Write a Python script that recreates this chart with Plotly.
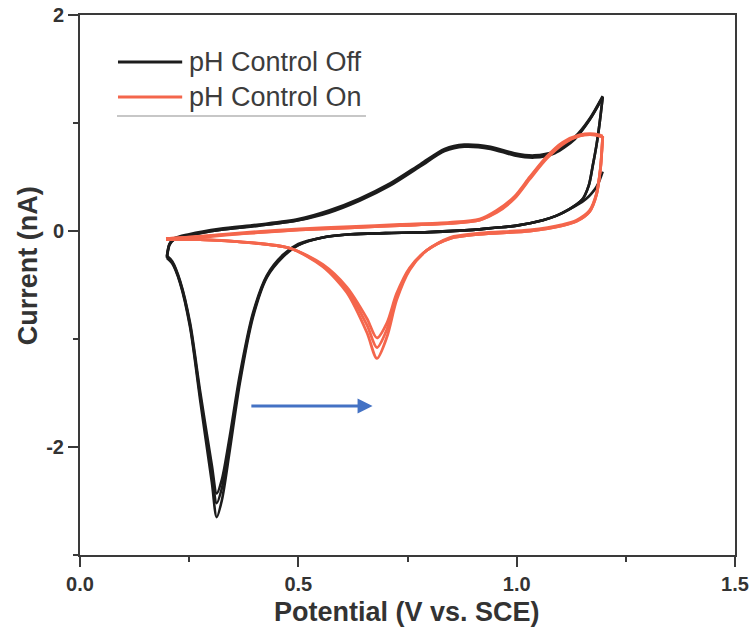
import plotly.graph_objects as go

# ---- Cyclic voltammetry data (3 cycles per condition) ----
# pH control off: reverse sweep 1.2 V -> 0.2 V
E_OFF_REV = [1.197, 1.19, 1.183, 1.174, 1.165, 1.15, 1.12, 1.09, 1.06, 1.0, 0.95, 0.90,
             0.80, 0.70, 0.62, 0.556, 0.50, 0.465, 0.428, 0.396, 0.366, 0.343, 0.325,
             0.313, 0.302, 0.275, 0.252, 0.229, 0.211, 0.199]
I_OFF_REV_1 = [0.55, 0.47, 0.41, 0.36, 0.32, 0.27, 0.20, 0.14, 0.10, 0.05, 0.03, 0.01,
               -0.01, -0.02, -0.03, -0.06, -0.13, -0.24, -0.43, -0.80, -1.41, -2.03, -2.49,
               -2.65, -2.33, -1.56, -0.89, -0.48, -0.30, -0.25]
I_OFF_REV_2 = [1.24, 1.00, 0.80, 0.60, 0.42, 0.29, 0.20, 0.14, 0.10, 0.05, 0.03, 0.01,
               -0.01, -0.02, -0.03, -0.06, -0.13, -0.23, -0.42, -0.78, -1.37, -1.96, -2.38,
               -2.52, -2.24, -1.52, -0.87, -0.47, -0.29, -0.24]
I_OFF_REV_3 = [1.24, 1.00, 0.80, 0.60, 0.42, 0.29, 0.20, 0.14, 0.10, 0.05, 0.03, 0.01,
               -0.01, -0.02, -0.03, -0.06, -0.12, -0.22, -0.41, -0.76, -1.33, -1.90, -2.30,
               -2.43, -2.17, -1.48, -0.85, -0.46, -0.28, -0.23]
# pH control off: forward sweep 0.2 V -> 1.2 V
E_OFF_FWD = [0.199, 0.205, 0.215, 0.25, 0.32, 0.41, 0.50, 0.57, 0.64, 0.71, 0.78, 0.835,
             0.88, 0.94, 0.995, 1.04, 1.087, 1.133, 1.167, 1.197]
I_OFF_FWD_1 = [-0.25, -0.13, -0.08, -0.04, 0.01, 0.05, 0.10, 0.18, 0.29, 0.43, 0.61, 0.75,
               0.79, 0.77, 0.71, 0.69, 0.73, 0.86, 1.03, 1.24]
I_OFF_FWD_2 = [-0.24, -0.12, -0.08, -0.04, 0.01, 0.05, 0.10, 0.17, 0.28, 0.42, 0.60, 0.74,
               0.78, 0.76, 0.70, 0.68, 0.72, 0.85, 1.03, 1.24]
I_OFF_FWD_3 = [-0.23, -0.12, -0.07, -0.03, 0.02, 0.06, 0.11, 0.19, 0.30, 0.44, 0.62, 0.76,
               0.80, 0.78, 0.72, 0.70, 0.74, 0.87, 1.04, 1.25]

# pH control on: forward sweep 0.2 V -> 1.2 V
E_ON_FWD = [0.197, 0.275, 0.389, 0.503, 0.618, 0.732, 0.847, 0.915, 0.954, 0.995, 1.03,
            1.069, 1.105, 1.144, 1.178, 1.197]
I_ON_FWD_1 = [-0.07, -0.05, -0.01, 0.02, 0.04, 0.06, 0.08, 0.11, 0.19, 0.32, 0.50,
              0.69, 0.82, 0.89, 0.90, 0.88]
I_ON_FWD_2 = [-0.07, -0.05, -0.02, 0.01, 0.03, 0.05, 0.07, 0.10, 0.18, 0.31, 0.49,
              0.68, 0.81, 0.88, 0.89, 0.87]
I_ON_FWD_3 = [-0.08, -0.06, -0.02, 0.01, 0.03, 0.05, 0.07, 0.10, 0.17, 0.30, 0.48,
              0.67, 0.80, 0.88, 0.89, 0.87]
# pH control on: reverse sweep 1.2 V -> 0.2 V
E_ON_REV = [1.197, 1.195, 1.192, 1.183, 1.167, 1.137, 1.105, 1.03, 0.915, 0.847, 0.794,
            0.755, 0.725, 0.703, 0.680, 0.657, 0.611, 0.556, 0.481, 0.366, 0.275, 0.197]
I_ON_REV_1 = [0.88, 0.75, 0.59, 0.35, 0.19, 0.10, 0.06, 0.01, -0.02, -0.06, -0.18,
              -0.36, -0.64, -0.98, -1.18, -0.94, -0.57, -0.33, -0.16, -0.10, -0.08, -0.07]
I_ON_REV_2 = [0.87, 0.74, 0.58, 0.34, 0.18, 0.09, 0.05, 0.00, -0.03, -0.07, -0.18,
              -0.35, -0.61, -0.91, -1.08, -0.87, -0.54, -0.32, -0.16, -0.10, -0.08, -0.07]
I_ON_REV_3 = [0.87, 0.74, 0.58, 0.34, 0.18, 0.09, 0.05, 0.00, -0.03, -0.07, -0.18,
              -0.34, -0.58, -0.85, -0.99, -0.81, -0.52, -0.31, -0.16, -0.10, -0.08, -0.08]

# Shift arrow (from the "off" reduction peak toward the "on" reduction peak)
ARROW_FROM = (0.389, -1.62)
ARROW_TO = (0.670, -1.62)

LEGEND_LABELS = ["pH Control Off", "pH Control On"]
X_TICKS = [0.0, 0.5, 1.0, 1.5]
X_TICKTEXT = ["0.0", "0.5", "1.0", "1.5"]
Y_TICKS = [-2, 0, 2]
Y_TICKTEXT = ["-2", "0", "2"]

BLACK = "#1c1c1c"
RED = "#f4664c"
AXIS = "#3a3a3a"
FONT = "Liberation Sans, Arial, sans-serif"


def sweep_path(segments):
    """Join sweep segments with gaps so each branch is smoothed on its own."""
    xs, ys = [], []
    for e, i in segments:
        if xs:
            xs.append(None)
            ys.append(None)
        xs.extend(e)
        ys.extend(i)
    return xs, ys


fig = go.Figure()

off_cycles = [(I_OFF_REV_1, I_OFF_FWD_1), (I_OFF_REV_2, I_OFF_FWD_2), (I_OFF_REV_3, I_OFF_FWD_3)]
for rev, fwd in off_cycles:
    xs, ys = sweep_path([(E_OFF_REV, rev), (E_OFF_FWD, fwd)])
    fig.add_trace(go.Scatter(x=xs, y=ys, mode="lines", showlegend=False,
                             connectgaps=False,
                             line=dict(color=BLACK, width=2.6, shape="spline", smoothing=0.8)))

on_cycles = [(I_ON_FWD_1, I_ON_REV_1), (I_ON_FWD_2, I_ON_REV_2), (I_ON_FWD_3, I_ON_REV_3)]
for fwd, rev in on_cycles:
    xs, ys = sweep_path([(E_ON_FWD, fwd), (E_ON_REV, rev)])
    fig.add_trace(go.Scatter(x=xs, y=ys, mode="lines", showlegend=False,
                             connectgaps=False,
                             line=dict(color=RED, width=2.8, shape="spline", smoothing=0.8)))

# Legend drawn by hand (long line samples)
legend_items = [(LEGEND_LABELS[0], BLACK, 0.913), (LEGEND_LABELS[1], RED, 0.848)]
shapes = []
annotations = []
for label, color, yp in legend_items:
    shapes.append(dict(type="line", xref="paper", yref="paper", x0=0.058, x1=0.156,
                       y0=yp, y1=yp, line=dict(color=color, width=3)))
    annotations.append(dict(xref="paper", yref="paper", x=0.163, y=yp, text=label,
                            showarrow=False, xanchor="left", yanchor="middle",
                            font=dict(family=FONT, size=27, color="#3c3c3c")))
shapes.append(dict(type="line", xref="paper", yref="paper", x0=0.0565, x1=0.4366,
                   y0=0.813, y1=0.813, line=dict(color="#b4b4b4", width=1.5)))

# Axis titles
annotations.append(dict(xref="paper", yref="paper", x=0.499, y=-0.1056,
                        text="<b>Potential (V vs. SCE)</b>", showarrow=False,
                        xanchor="center", yanchor="middle",
                        font=dict(family=FONT, size=27, color="#333333")))
annotations.append(dict(xref="paper", yref="paper", x=-0.079, y=0.535,
                        text="<b>Current (nA)</b>", showarrow=False, textangle=-90,
                        xanchor="center", yanchor="middle",
                        font=dict(family=FONT, size=27, color="#333333")))

# Blue shift arrow
annotations.append(dict(x=ARROW_TO[0], y=ARROW_TO[1], ax=ARROW_FROM[0], ay=ARROW_FROM[1],
                        xref="x", yref="y", axref="x", ayref="y", text="",
                        showarrow=True, arrowhead=2, arrowsize=1.0, arrowwidth=3,
                        arrowcolor="#4472c4", standoff=0, startstandoff=0))

fig.update_layout(
    width=751, height=631,
    margin=dict(l=80, r=16, t=15, b=76, autoexpand=False),
    paper_bgcolor="white", plot_bgcolor="white",
    shapes=shapes, annotations=annotations,
    font=dict(family=FONT, color="#333333"),
)

fig.update_xaxes(
    range=[0, 1.5], tickvals=X_TICKS, ticktext=X_TICKTEXT, automargin=False,
    showgrid=False, zeroline=False,
    showline=True, linecolor=AXIS, linewidth=2, mirror=True,
    ticks="outside", ticklen=10, tickwidth=2, tickcolor=AXIS,
    tickfont=dict(family=FONT, size=20, color="#333333", weight="bold"),
    minor=dict(dtick=0.25, tick0=0, ticks="outside", ticklen=5, tickwidth=2, tickcolor=AXIS),
)
fig.update_yaxes(
    range=[-3, 2], tickvals=Y_TICKS, ticktext=Y_TICKTEXT, automargin=False,
    showgrid=False, zeroline=False,
    showline=True, linecolor=AXIS, linewidth=2, mirror=True,
    ticks="outside", ticklen=10, tickwidth=2, tickcolor=AXIS,
    tickfont=dict(family=FONT, size=20, color="#333333", weight="bold"),
    minor=dict(dtick=1, tick0=0, ticks="outside", ticklen=5, tickwidth=2, tickcolor=AXIS),
)

fig.write_html("out.html")
